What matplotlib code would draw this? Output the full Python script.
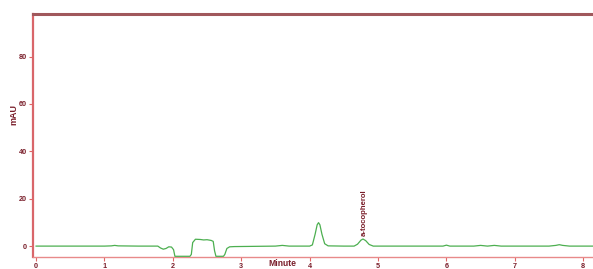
import matplotlib
matplotlib.use("Agg")
import matplotlib.pyplot as plt

# Chromatogram trace (minutes, mAU)
time_min = [0.00, 0.50, 1.00, 1.10, 1.15, 1.20, 1.50, 1.78, 1.82, 1.86, 1.90, 1.94, 1.98, 2.01,
            2.03, 2.05, 2.25, 2.27, 2.29, 2.33, 2.40, 2.45, 2.50, 2.56, 2.59, 2.61, 2.63,
            2.74, 2.76, 2.79, 2.83, 2.90, 3.20, 3.50, 3.60, 3.70, 4.00, 4.04, 4.08, 4.11,
            4.13, 4.15, 4.18, 4.22, 4.27, 4.50, 4.65, 4.70, 4.75, 4.78, 4.82, 4.87, 4.93,
            5.20, 5.70, 5.95, 6.00, 6.05, 6.40, 6.50, 6.60, 6.70, 6.80, 7.50, 7.60, 7.65,
            7.70, 7.80, 8.00, 8.30]
signal_mau = [0.0, 0.0, 0.0, 0.1, 0.3, 0.1, 0.0, 0.0, -0.8, -1.3, -1.0, -0.3, -0.4, -1.5,
              -4.3, -4.3, -4.3, -3.5, 1.5, 2.9, 2.8, 2.6, 2.7, 2.4, 2.0, -2.0, -4.3,
              -4.3, -3.5, -1.0, -0.3, -0.2, -0.1, 0.0, 0.3, 0.0, 0.0, 0.5, 5.0, 9.0,
              9.9, 9.0, 5.0, 1.0, 0.1, 0.0, 0.0, 0.8, 2.5, 3.0, 2.3, 0.7, 0.0,
              0.0, 0.0, 0.0, 0.4, 0.0, 0.0, 0.3, 0.0, 0.3, 0.0, 0.0, 0.3, 0.6,
              0.3, 0.0, 0.0, 0.0]

x_ticks = [0, 1, 2, 3, 4, 5, 6, 7, 8]
y_ticks = [0, 20, 40, 60, 80]
peak_label = "a-tocopherol"
peak_time = 4.80
x_label = "Minute"
y_label = "mAU"

dark_red = "#7a1f2b"
tick_red = "#e06666"

plt.rcParams['font.family'] = ['Liberation Sans', 'DejaVu Sans']

fig = plt.figure(figsize=(5.93, 2.69), dpi=100)
ax = fig.add_axes([33 / 593, 1 - 257 / 269, 1 - 33 / 593 + 0.01, (257 - 14) / 269])

ax.plot(time_min, signal_mau, color="#4caf50", linewidth=0.9, zorder=3)

ax.set_xlim(-0.045, 8.23)
ax.set_ylim(-4.6, 98)
ax.set_xticks(x_ticks)
ax.set_yticks(y_ticks)
ax.tick_params(axis='both', colors=tick_red, length=3, width=0.8,
               labelsize=5.2, labelcolor=dark_red, pad=1.5)
for lab in ax.get_xticklabels() + ax.get_yticklabels():
    lab.set_fontweight('bold')

ax.spines['top'].set_color('#a0585c')
ax.spines['top'].set_linewidth(2.2)
ax.spines['left'].set_color('#d9666a')
ax.spines['left'].set_linewidth(1.6)
ax.spines['bottom'].set_color('#e88a8a')
ax.spines['bottom'].set_linewidth(1.0)
ax.spines['right'].set_visible(False)

ax.text(peak_time, 4.3, peak_label, rotation=90, ha='center', va='bottom',
        fontsize=5.6, fontweight='bold', color=dark_red)

fig.text(14 / 593, 1 - 115 / 269, y_label, rotation=90, ha='center', va='center',
         fontsize=6.5, fontweight='bold', color=dark_red)
fig.text(282 / 593, 1.0 / 269, x_label, ha='center', va='bottom',
         fontsize=6.2, fontweight='bold', color=dark_red)

fig.savefig("out.png", dpi=100)
